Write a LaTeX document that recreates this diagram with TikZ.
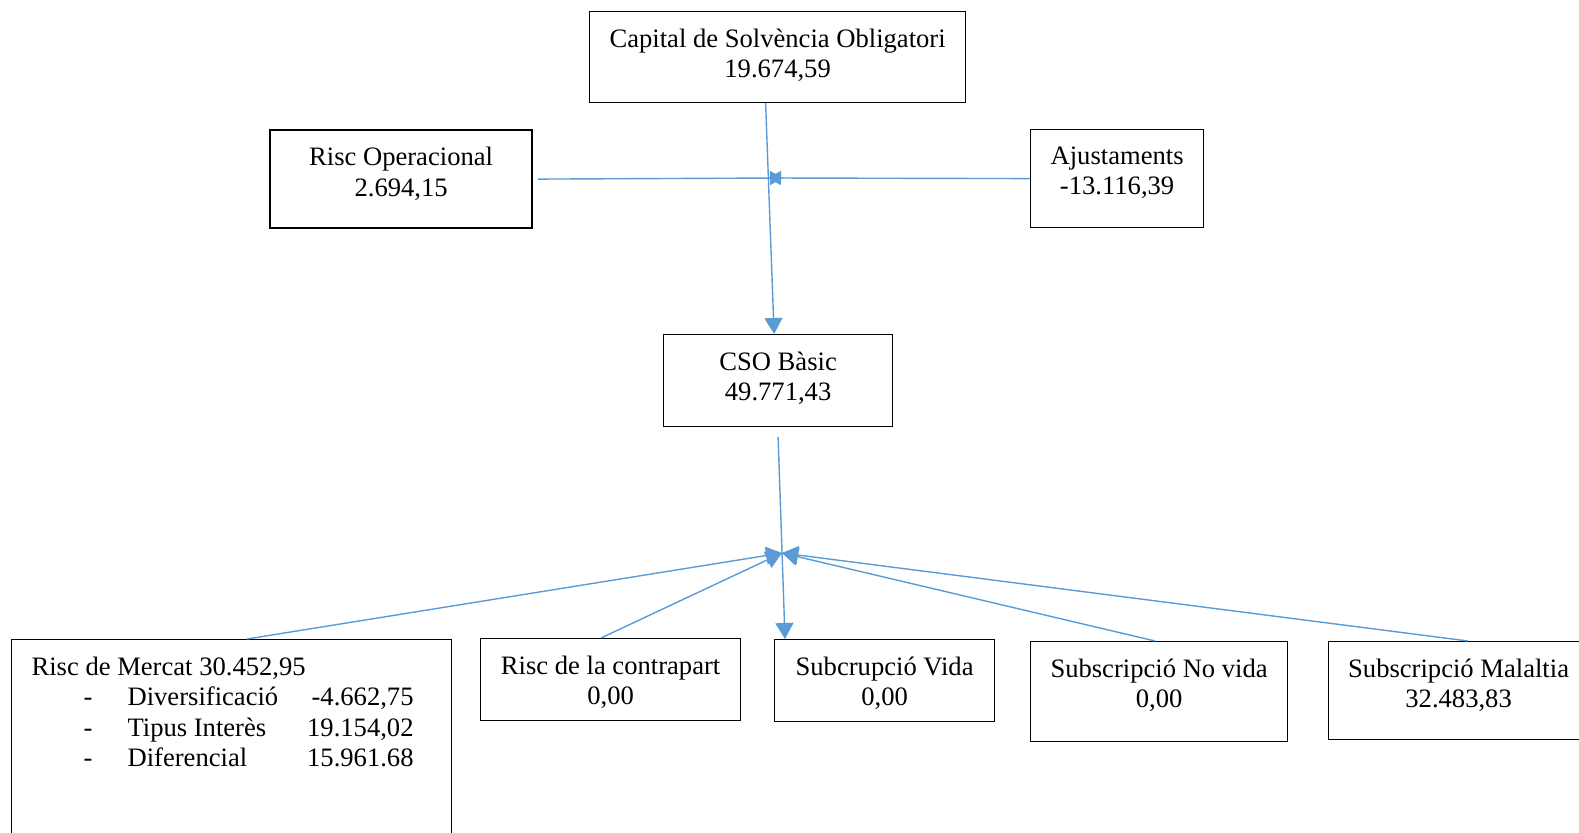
\documentclass[tikz,border=0pt]{standalone}
\usepackage{fontspec}
\setmainfont{Liberation Serif}
\usetikzlibrary{arrows.meta, calc, positioning}
\definecolor{linkblue}{RGB}{91,155,213}
\newcommand{\boxlines}[3]{\parbox[t][#2][t]{#1}{\centering\vspace*{8.5pt}#3}}
\newcommand{\mercatline}[2]{\hspace*{36pt}\makebox[22pt][l]{-}\makebox[143pt][l]{#1}\makebox[0pt][r]{#2}}

\begin{document}
\begin{tikzpicture}[x=0.5pt,y=-0.5pt,
            box/.style={draw,line width=0.6pt,inner sep=0pt,anchor=north west,
               font=\fontsize{13.3}{15.3}\selectfont},
            link/.style={draw=linkblue,line width=0.7pt,-{Triangle[length=8pt,width=9pt]}},
            shortlink/.style={link,-{Triangle[length=6.5pt,width=7pt]}}]
            \useasboundingbox (0,0) rectangle (1579,833);
            % top levels
            \node[box] (scr) at (589,11) {\boxlines{188pt}{45.5pt}{Capital de Solvència Obligatori\\19.674,59}};
            \node[box,line width=1.1pt] (riscop) at (269,129) {\boxlines{131pt}{49pt}{Risc Operacional\\2.694,15}};
            \node[box] (ajust) at (1030,129) {\boxlines{86.5pt}{49pt}{Ajustaments\\-13.116,39}};
            \node[box] (cso) at (663,334) {\boxlines{114.5pt}{46pt}{CSO Bàsic\\49.771,43}};
            % modules
            \node[box] (mercat) at (11,639) {\parbox[t][125pt][t]{220pt}{\raggedright\vspace*{8.5pt}%
               \hspace*{10pt}Risc de Mercat 30.452,95\\
               \mercatline{Diversificació}{-4.662,75}\\
               \mercatline{Tipus Interès}{19.154,02}\\
               \mercatline{Diferencial}{15.961.68}}};
            \node[box] (contrapart) at (480,638) {\boxlines{130pt}{41pt}{Risc de la contrapart\\0,00}};
            \node[box] (vida) at (774,639) {\boxlines{110pt}{41pt}{Subcrupció Vida\\0,00}};
            \node[box] (novida) at (1030,641) {\boxlines{128.5pt}{50pt}{Subscripció No vida\\0,00}};
            \node[box] (malaltia) at (1328,641) {\boxlines{130pt}{49pt}{Subscripció Malaltia\\32.483,83}};
            % junctions
            \coordinate (jl) at (783,178);
            \coordinate (jr) at (768,178);
            \coordinate (jb) at (782,553);
            % connectors
            \draw[link] ($(scr.south)+(-12,0)$) -- ($(cso.north)+(-4,0)$);
            \draw[shortlink] ($(riscop.east)+(5,0)$) -- (jl);
            \draw[shortlink] (ajust.west) -- (jr);
            \draw[link] ($(cso.south)+(0,10)$) -- ($(vida.north west)+(11,0)$);
            \draw[link] ($(mercat.north west)+(236,0)$) -- (jb);
            \draw[link] ($(contrapart.north west)+(121,0)$) -- (jb);
            \draw[link] ($(novida.north west)+(125,0)$) -- (jb);
            \draw[link] ($(malaltia.north west)+(140,0)$) -- (jb);
\end{tikzpicture}
\end{document}
